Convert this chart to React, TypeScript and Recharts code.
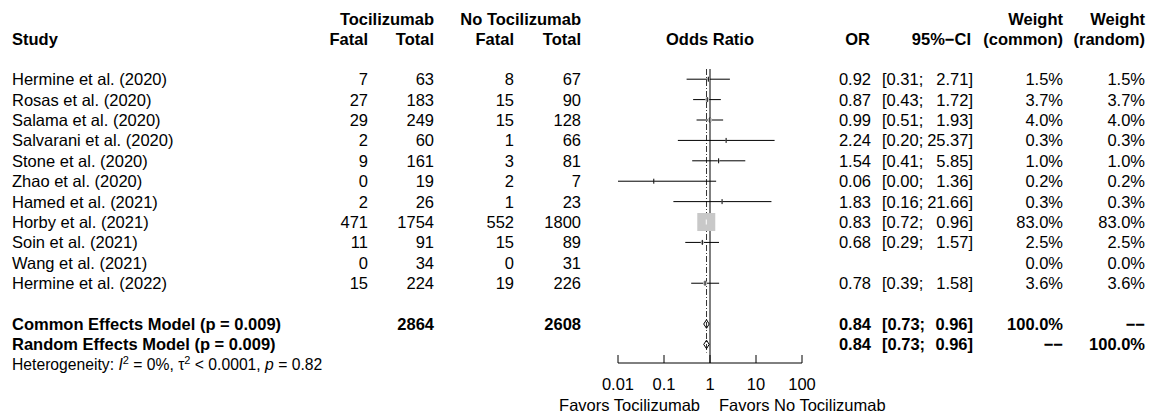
import { ScatterChart, Scatter, XAxis, YAxis, ErrorBar, ReferenceLine } from 'recharts';

const FONT = '"Liberation Sans", Arial, Helvetica, sans-serif';
const FS = 16.5;

const studies = [
  'Hermine et al. (2020)',
  'Rosas et al. (2020)',
  'Salama et al. (2020)',
  'Salvarani et al. (2020)',
  'Stone et al. (2020)',
  'Zhao et al. (2020)',
  'Hamed et al. (2021)',
  'Horby et al. (2021)',
  'Soin et al. (2021)',
  'Wang et al. (2021)',
  'Hermine et al. (2022)',
];
const fatalToci = [7, 27, 29, 2, 9, 0, 2, 471, 11, 0, 15];
const totalToci = [63, 183, 249, 60, 161, 19, 26, 1754, 91, 34, 224];
const fatalNoToci = [8, 15, 15, 1, 3, 2, 1, 552, 15, 0, 19];
const totalNoToci = [67, 90, 128, 66, 81, 7, 23, 1800, 89, 31, 226];
const oddsRatio = [0.92, 0.87, 0.99, 2.24, 1.54, 0.06, 1.83, 0.83, 0.68, null, 0.78];
const ciLow = [0.31, 0.43, 0.51, 0.2, 0.41, 0.0, 0.16, 0.72, 0.29, null, 0.39];
const ciHigh = [2.71, 1.72, 1.93, 25.37, 5.85, 1.36, 21.66, 0.96, 1.57, null, 1.58];
const weightCommon = [1.5, 3.7, 4.0, 0.3, 1.0, 0.2, 0.3, 83.0, 2.5, 0.0, 3.6];
const weightRandom = [1.5, 3.7, 4.0, 0.3, 1.0, 0.2, 0.3, 83.0, 2.5, 0.0, 3.6];

const models = ['Common Effects Model (p = 0.009)', 'Random Effects Model (p = 0.009)'];
const modelTotalToci = [2864, null];
const modelTotalNoToci = [2608, null];
const modelOR = [0.84, 0.84];
const modelLow = [0.73, 0.73];
const modelHigh = [0.96, 0.96];
const modelWeightCommon = ['100.0%', '−−'];
const modelWeightRandom = ['−−', '100.0%'];

const xTicks = [0.01, 0.1, 1, 10, 100];

const X_MIN = 0.01;
const MODEL_ROW = studies.length + 1;

const f2 = (v: number) => v.toFixed(2);

const studyPoints = studies
  .map((name, i) => ({ i, name }))
  .filter(({ i }) => oddsRatio[i] != null)
  .map(({ i, name }) => {
    const or = oddsRatio[i] as number;
    const lo = Math.max(ciLow[i] as number, X_MIN);
    const hi = ciHigh[i] as number;
    return { name, x: or, y: i, w: weightCommon[i], err: [or - lo, hi - or] };
  });
// the CI line is drawn white when it sits inside the (big) square
const darkLines = studyPoints.filter((p) => p.w < 50);
const lightLines = studyPoints.filter((p) => p.w >= 50);

const textRows = [
  ...studies.map((name, i) => ({
    x: 1,
    y: i,
    bold: false,
    label: name,
    e1: String(fatalToci[i]),
    n1: String(totalToci[i]),
    e2: String(fatalNoToci[i]),
    n2: String(totalNoToci[i]),
    or: oddsRatio[i] == null ? '' : f2(oddsRatio[i] as number),
    lo: ciLow[i] == null ? '' : `[${f2(ciLow[i] as number)};`,
    hi: ciHigh[i] == null ? '' : `${f2(ciHigh[i] as number)}]`,
    wc: `${weightCommon[i].toFixed(1)}%`,
    wr: `${weightRandom[i].toFixed(1)}%`,
  })),
  ...models.map((name, k) => ({
    x: 1,
    y: MODEL_ROW + k,
    bold: true,
    label: name,
    e1: '',
    n1: modelTotalToci[k] == null ? '' : String(modelTotalToci[k]),
    e2: '',
    n2: modelTotalNoToci[k] == null ? '' : String(modelTotalNoToci[k]),
    or: f2(modelOR[k]),
    lo: `[${f2(modelLow[k])};`,
    hi: `${f2(modelHigh[k])}]`,
    wc: modelWeightCommon[k],
    wr: modelWeightRandom[k],
  })),
];

const DIAMOND_HALF = 0.21;
const diamonds = models.map((_, k) => {
  const y = MODEL_ROW + k;
  return [
    { x: modelLow[k], y },
    { x: modelOR[k], y: y - DIAMOND_HALF },
    { x: modelHigh[k], y },
    { x: modelOR[k], y: y + DIAMOND_HALF },
    { x: modelLow[k], y },
  ];
});

const COL = {
  study: 12,
  e1: 368,
  n1: 434,
  e2: 514,
  n2: 581,
  or: 871,
  lo: 882,
  hi: 973,
  wc: 1063,
  wr: 1145,
};

const RowText = (props: any) => {
  const { cy, payload: p } = props;
  return (
    <g fontFamily={FONT} fontSize={FS} fontWeight={p.bold ? 'bold' : 'normal'} fill="#000">
      <text x={COL.study} y={cy} dy="0.36em">{p.label}</text>
      <text x={COL.e1} y={cy} dy="0.36em" textAnchor="end">{p.e1}</text>
      <text x={COL.n1} y={cy} dy="0.36em" textAnchor="end">{p.n1}</text>
      <text x={COL.e2} y={cy} dy="0.36em" textAnchor="end">{p.e2}</text>
      <text x={COL.n2} y={cy} dy="0.36em" textAnchor="end">{p.n2}</text>
      <text x={COL.or} y={cy} dy="0.36em" textAnchor="end">{p.or}</text>
      <text x={COL.lo} y={cy} dy="0.36em">{p.lo}</text>
      <text x={COL.hi} y={cy} dy="0.36em" textAnchor="end">{p.hi}</text>
      <text x={COL.wc} y={cy} dy="0.36em" textAnchor="end">{p.wc}</text>
      <text x={COL.wr} y={cy} dy="0.36em" textAnchor="end">{p.wr}</text>
    </g>
  );
};

const MAX_SQUARE = 18;
const Square = (props: any) => {
  const { cx, cy, payload } = props;
  const s = MAX_SQUARE * Math.sqrt(payload.w / 83);
  return <rect x={cx - s / 2} y={cy - s / 2} width={s} height={s} fill="#c8c8c8" />;
};

const Tick = (color: string) => (props: any) => {
  const { cx, cy } = props;
  return <line x1={cx} x2={cx} y1={cy - 2.5} y2={cy + 2.5} stroke={color} strokeWidth={1} />;
};

const Nothing = () => <g />;

const AxisTick = (props: any) => {
  const { x, y, payload } = props;
  return (
    <g>
      <line x1={x} x2={x} y1={y - 8} y2={y} stroke="#000" />
      <text x={x} y={y + 27} textAnchor="middle" fontFamily={FONT} fontSize={FS} fill="#000">
        {payload.value}
      </text>
    </g>
  );
};

export default function App() {
  const hdr = { fontFamily: FONT, fontSize: FS, fontWeight: 'bold' as const, fill: '#000' };
  return (
    <div style={{ position: 'absolute', left: 0, top: 0, width: 1151, height: 419, background: '#fff' }}>
      <ScatterChart width={1151} height={419} margin={{ top: 69, right: 349, bottom: 26, left: 618 }}>
        <XAxis
          type="number"
          dataKey="x"
          scale="log"
          domain={[0.01, 100]}
          ticks={xTicks}
          interval={0}
          tickLine={false}
          tickSize={0}
          tickMargin={0}
          axisLine={{ stroke: '#000' }}
          tick={<AxisTick />}
        />
        <YAxis type="number" dataKey="y" hide reversed domain={[-0.5, 13.91]} />
        <ReferenceLine x={1} stroke="#000" strokeWidth={1} />
        <ReferenceLine
          segment={[
            { x: modelOR[0], y: -0.5 },
            { x: modelOR[0], y: 13.4 },
          ]}
          stroke="#333"
          strokeDasharray="6 2 1 2"
        />
        <Scatter data={textRows} shape={<RowText />} isAnimationActive={false} />
        <Scatter data={studyPoints} shape={<Square />} isAnimationActive={false} />
        <Scatter data={darkLines} shape={Tick('#000')} isAnimationActive={false}>
          <ErrorBar dataKey="err" direction="x" width={0} stroke="#000" strokeWidth={1} />
        </Scatter>
        <Scatter data={lightLines} shape={Tick('#fff')} isAnimationActive={false}>
          <ErrorBar dataKey="err" direction="x" width={0} stroke="#fff" strokeWidth={1} />
        </Scatter>
        {diamonds.map((d, k) => (
          <Scatter
            key={k}
            data={d}
            line={{ stroke: '#000', strokeWidth: 1 }}
            lineType="joint"
            shape={<Nothing />}
            isAnimationActive={false}
          />
        ))}
      </ScatterChart>
      <svg
        width={1151}
        height={419}
        style={{ position: 'absolute', left: 0, top: 0, pointerEvents: 'none' }}
      >
        <g {...hdr}>
          <text x={COL.n1} y={25} textAnchor="end">Tocilizumab</text>
          <text x={COL.n2} y={25} textAnchor="end">No Tocilizumab</text>
          <text x={COL.wc} y={25} textAnchor="end">Weight</text>
          <text x={COL.wr} y={25} textAnchor="end">Weight</text>
          <text x={COL.study} y={45}>Study</text>
          <text x={COL.e1} y={45} textAnchor="end">Fatal</text>
          <text x={COL.n1} y={45} textAnchor="end">Total</text>
          <text x={COL.e2} y={45} textAnchor="end">Fatal</text>
          <text x={COL.n2} y={45} textAnchor="end">Total</text>
          <text x={710} y={45} textAnchor="middle">Odds Ratio</text>
          <text x={870} y={45} textAnchor="end">OR</text>
          <text x={971} y={45} textAnchor="end">95%−CI</text>
          <text x={COL.wc} y={45} textAnchor="end">(common)</text>
          <text x={COL.wr} y={45} textAnchor="end">(random)</text>
        </g>
        <text x={COL.study} y={370} fontFamily={FONT} fontSize={15.7} fill="#000">
          Heterogeneity: <tspan fontStyle="italic">I</tspan>
          <tspan fontSize={11} dy={-6}>2</tspan>
          <tspan dy={6}> = 0%, τ</tspan>
          <tspan fontSize={11} dy={-6}>2</tspan>
          <tspan dy={6}> &lt; 0.0001, </tspan>
          <tspan fontStyle="italic">p</tspan> = 0.82
        </text>
        <g fontFamily={FONT} fontSize={FS} fill="#000">
          <text x={700} y={411} textAnchor="end">Favors Tocilizumab</text>
          <text x={719} y={411}>Favors No Tocilizumab</text>
        </g>
      </svg>
    </div>
  );
}
